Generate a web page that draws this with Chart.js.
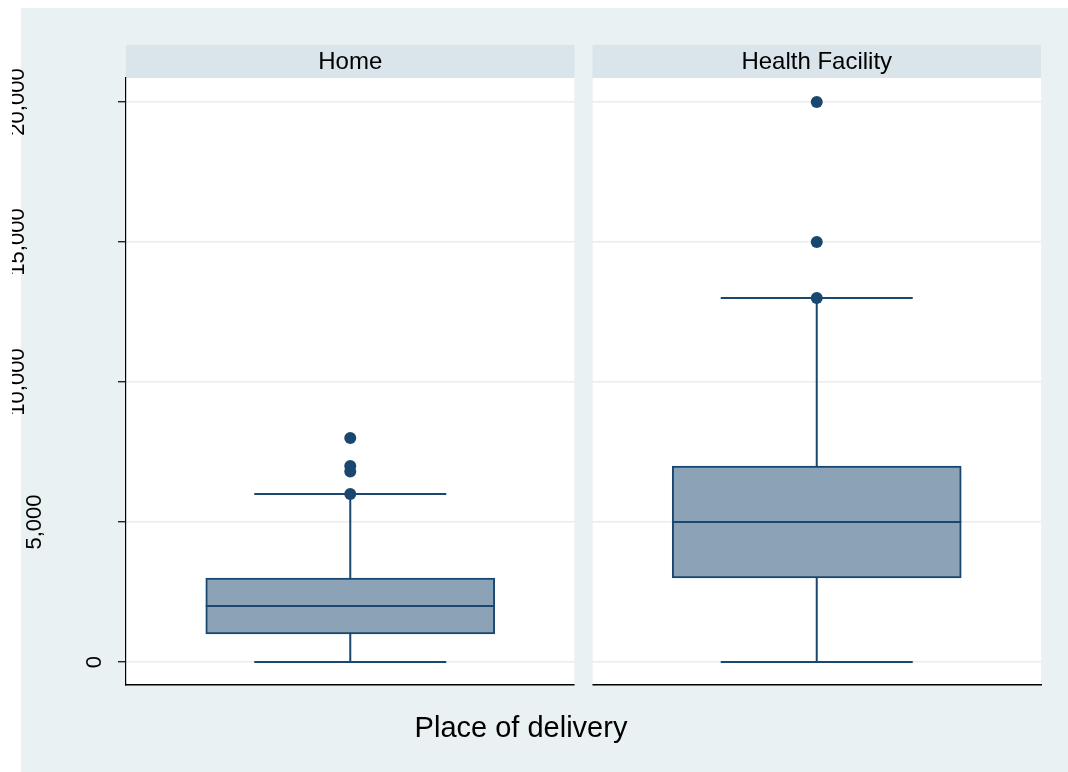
<!DOCTYPE html>
<html>
<head>
<meta charset="utf-8">
<script src="https://cdn.jsdelivr.net/npm/chart.js@4.4.1/dist/chart.umd.min.js"></script>
<style>
  html, body { margin: 0; padding: 0; background: #fff; }
  canvas { display: block; }
</style>
</head>
<body>
<canvas id="chart" width="1068" height="772"></canvas>
<script>
// Box plot summaries per place of delivery
const categories = ['Home', 'Health Facility'];
const lowerAdjacent = [0, 0];
const lowerQuartile = [1000, 3000];
const medianValues = [2000, 5000];
const upperQuartile = [3000, 7000];
const upperAdjacent = [6000, 13000];
const homeOutside = [6000, 6800, 7000, 8000];
const facilityOutside = [13000, 15000, 20000];
const yTickValues = [0, 5000, 10000, 15000, 20000];
const xAxisTitle = 'Place of delivery';

// Each facet occupies one unit on the x scale, separated by a small gap
const PANEL_GAP = 0.04;
const panelStart = i => i * (1 + PANEL_GAP);
const panelCenter = i => panelStart(i) + 0.5;

const FONT = '"Liberation Sans", Arial, Helvetica, sans-serif';
const NAVY = '#1a476f';
const BOX_FILL = '#8ca2b7';
const BG = '#eaf1f3';
const STRIP = '#d9e5eb';
const LINE_W = 2;
const CAP_HALF = 96;
const STRIP_H = 33;

const outsideGroups = [homeOutside, facilityOutside];
const outsidePoints = [];
outsideGroups.forEach((vals, i) => vals.forEach(v => outsidePoints.push({ x: panelCenter(i), y: v })));

const facetPlugin = {
  id: 'facets',
  beforeDraw(chart) {
    const { ctx, chartArea: a, scales: { x } } = chart;
    ctx.save();
    ctx.fillStyle = '#fff';
    ctx.fillRect(0, 0, chart.width, chart.height);
    ctx.fillStyle = BG;
    ctx.fillRect(21, 8, chart.width - 21, chart.height - 8);
    categories.forEach((c, i) => {
      const l = x.getPixelForValue(panelStart(i));
      const r = x.getPixelForValue(panelStart(i) + 1);
      ctx.fillStyle = '#fff';
      ctx.fillRect(l, a.top, r - l, a.bottom - a.top);
      ctx.fillStyle = STRIP;
      ctx.fillRect(l, a.top - STRIP_H, r - l, STRIP_H);
    });
    ctx.restore();
  },
  beforeDatasetsDraw(chart) {
    const { ctx, chartArea: a, scales: { x, y } } = chart;
    ctx.save();
    // separate the facets
    for (let i = 0; i < categories.length - 1; i++) {
      const gl = x.getPixelForValue(panelStart(i) + 1);
      const gr = x.getPixelForValue(panelStart(i + 1));
      ctx.fillStyle = BG;
      ctx.fillRect(gl, a.top - 1, gr - gl, a.bottom - a.top + 5);
    }
    // whiskers and caps
    ctx.strokeStyle = NAVY;
    ctx.lineWidth = LINE_W;
    categories.forEach((c, i) => {
      const cx = x.getPixelForValue(panelCenter(i));
      const yLo = y.getPixelForValue(lowerAdjacent[i]);
      const yQ1 = y.getPixelForValue(lowerQuartile[i]);
      const yQ3 = y.getPixelForValue(upperQuartile[i]);
      const yHi = y.getPixelForValue(upperAdjacent[i]);
      ctx.beginPath();
      ctx.moveTo(cx, yLo); ctx.lineTo(cx, yQ1);
      ctx.moveTo(cx, yQ3); ctx.lineTo(cx, yHi);
      ctx.moveTo(cx - CAP_HALF, yLo); ctx.lineTo(cx + CAP_HALF, yLo);
      ctx.moveTo(cx - CAP_HALF, yHi); ctx.lineTo(cx + CAP_HALF, yHi);
      ctx.stroke();
    });
    ctx.restore();
  },
  afterDatasetDraw(chart, args) {
    if (args.meta.type !== 'bar') return;
    const { ctx, scales: { y } } = chart;
    ctx.save();
    ctx.strokeStyle = NAVY;
    ctx.lineWidth = LINE_W;
    args.meta.data.forEach((bar, i) => {
      const py = y.getPixelForValue(medianValues[i]);
      ctx.beginPath();
      ctx.moveTo(bar.x - bar.width / 2, py);
      ctx.lineTo(bar.x + bar.width / 2, py);
      ctx.stroke();
    });
    ctx.restore();
  },
  afterDraw(chart) {
    const { ctx, chartArea: a, scales: { x, y } } = chart;
    ctx.save();
    ctx.fillStyle = '#000';

    // rotated y tick labels
    ctx.font = `22px ${FONT}`;
    y.ticks.forEach(t => {
      const label = t.value.toLocaleString('en-US');
      const w = ctx.measureText(label).width;
      const py = y.getPixelForValue(t.value);
      const cx = 112 - 1.4 * w;
      ctx.save();
      ctx.beginPath();
      ctx.rect(12, 0, chart.width, chart.height);
      ctx.clip();
      ctx.translate(cx, py);
      ctx.rotate(-Math.PI / 2);
      ctx.textAlign = 'center';
      ctx.textBaseline = 'middle';
      ctx.fillText(label, 0, 0);
      ctx.restore();
    });

    // facet headers
    ctx.font = `24px ${FONT}`;
    ctx.textAlign = 'center';
    ctx.textBaseline = 'alphabetic';
    categories.forEach((c, i) => {
      const l = x.getPixelForValue(panelStart(i));
      const r = x.getPixelForValue(panelStart(i) + 1);
      ctx.fillText(c, (l + r) / 2, a.top - 9);
    });

    // x axis title
    ctx.font = `29px ${FONT}`;
    ctx.fillText(xAxisTitle, 521, 737);
    ctx.restore();
  }
};

new Chart(document.getElementById('chart'), {
  type: 'bar',
  data: {
    datasets: [
      {
        type: 'bar',
        order: 2,
        data: categories.map((c, i) => ({ x: panelCenter(i), y: [lowerQuartile[i], upperQuartile[i]] })),
        backgroundColor: BOX_FILL,
        borderColor: NAVY,
        borderWidth: LINE_W,
        borderSkipped: false,
        barThickness: 289
      },
      {
        type: 'scatter',
        order: 1,
        data: outsidePoints,
        pointRadius: 6,
        pointBackgroundColor: NAVY,
        pointBorderWidth: 0,
        showLine: false
      }
    ]
  },
  options: {
    responsive: false,
    animation: false,
    layout: { padding: { left: 0, top: 78, right: 27, bottom: 0 } },
    plugins: { legend: { display: false }, tooltip: { enabled: false } },
    scales: {
      x: {
        type: 'linear',
        offset: false,
        min: 0,
        max: panelStart(categories.length - 1) + 1,
        ticks: { display: false },
        grid: { display: false },
        border: { display: true, color: '#000', width: 1.4 },
        afterFit: s => { s.height = 87; }
      },
      y: {
        min: -821,
        max: 20857,
        afterBuildTicks: s => { s.ticks = yTickValues.map(v => ({ value: v })); },
        ticks: { display: false },
        grid: { color: '#e6eef1', lineWidth: 1.5, tickColor: '#000', tickLength: 8, tickWidth: 1.2 },
        border: { display: true, color: '#000', width: 1.2 },
        afterFit: s => { s.width = 126; }
      }
    }
  },
  plugins: [facetPlugin]
});
</script>
</body>
</html>
